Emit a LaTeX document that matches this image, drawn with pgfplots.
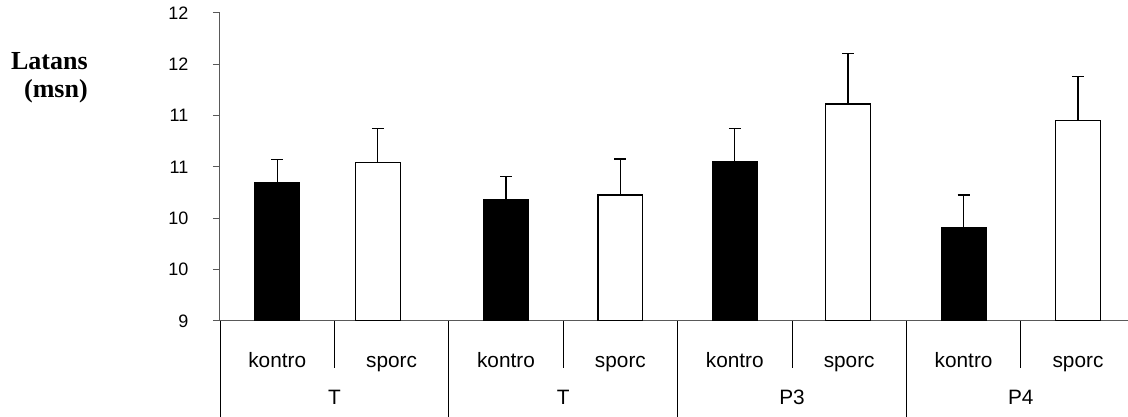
\documentclass[border=0pt]{standalone}
\usepackage{fontspec}
\setmainfont{Liberation Sans}
\newfontfamily\timesfont{Liberation Serif}
\usepackage{pgfplots}
\pgfplotsset{compat=1.18}

\pgfplotstableread{
x y e
0.50 10.347 0.227
2.50 10.178 0.227
4.50 10.548 0.324
6.50 9.912 0.315
}\kontro
\pgfplotstableread{
x y e
1.38 10.545 0.331
3.50 10.227 0.350
5.49 11.113 0.494
7.50 10.954 0.425
}\sporc

\begin{document}
\begin{tikzpicture}
\useasboundingbox (-165pt,-72pt) rectangle (681pt,240.75pt);
\begin{axis}[
  at={(0,0)}, anchor=south west,
  scale only axis, width=681pt, height=231pt,
  xmin=0, xmax=7.937, ymin=9, ymax=12,
  axis lines=left,
  axis line style={-, draw=black!65, line width=0.75pt},
  tick align=outside,
  major tick length=5.25pt,
  ytick={9,9.5,10,10.5,11,11.5,12},
  yticklabels={9,10,10,11,11,12,12},
  y tick style={draw=black!65, line width=0.75pt},
  xtick={0.5,1.5,2.5,3.5,4.5,5.5,6.5,7.5},
  xticklabels={kontro,sporc,kontro,sporc,kontro,sporc,kontro,sporc},
  x tick style={draw=none},
  xticklabel style={anchor=base, yshift=-29.25pt, font=\fontsize{15.6}{18}\selectfont},
  yticklabel style={anchor=east, xshift=-15pt, font=\fontsize{13.5}{16}\selectfont},
  /pgf/number format/assume math mode=true,
  error bars/error bar style={line width=0.9pt, black},
  error bars/error mark options={rotate=90, mark size=4.5pt, line width=0.9pt, black},
]
\addplot[ybar, bar width=33.6pt, bar shift=0pt, fill=black, draw=black, line width=0.9pt,
  error bars/.cd, y dir=plus, y explicit]
  table[x=x, y=y, y error=e] {\kontro};
\addplot[ybar, bar width=33.6pt, bar shift=0pt, fill=white, draw=black, line width=0.9pt,
  error bars/.cd, y dir=plus, y explicit]
  table[x=x, y=y, y error=e] {\sporc};
\coordinate (s0) at (axis cs:0,9);
\coordinate (s1) at (axis cs:1,9);
\coordinate (s2) at (axis cs:2,9);
\coordinate (s3) at (axis cs:3,9);
\coordinate (s4) at (axis cs:4,9);
\coordinate (s5) at (axis cs:5,9);
\coordinate (s6) at (axis cs:6,9);
\coordinate (s7) at (axis cs:7,9);
\end{axis}
\foreach \k in {1,3,5,7} {\draw[black, line width=0.75pt] (s\k) -- ++(0pt,-35.25pt);}
\foreach \k in {0,2,4,6} {\draw[black, line width=0.75pt] (s\k) -- ++(0pt,-72pt);}
\path (s1) ++(0pt,-63pt) node[anchor=base, font=\fontsize{15.6}{18}\selectfont] {T};
\path (s3) ++(0pt,-63pt) node[anchor=base, font=\fontsize{15.6}{18}\selectfont] {T};
\path (s5) ++(0pt,-63pt) node[anchor=base, font=\fontsize{15.6}{18}\selectfont] {P3};
\path (s7) ++(0pt,-63pt) node[anchor=base, font=\fontsize{15.6}{18}\selectfont] {P4};
\node[anchor=base east, inner sep=0pt, font=\timesfont\bfseries\fontsize{19.5}{22}\selectfont] at (-99pt,188.25pt) {Latans};
\node[anchor=base east, inner sep=0pt, font=\timesfont\bfseries\fontsize{19.5}{22}\selectfont] at (-99pt,167.25pt) {(msn)};
\end{tikzpicture}
\end{document}
